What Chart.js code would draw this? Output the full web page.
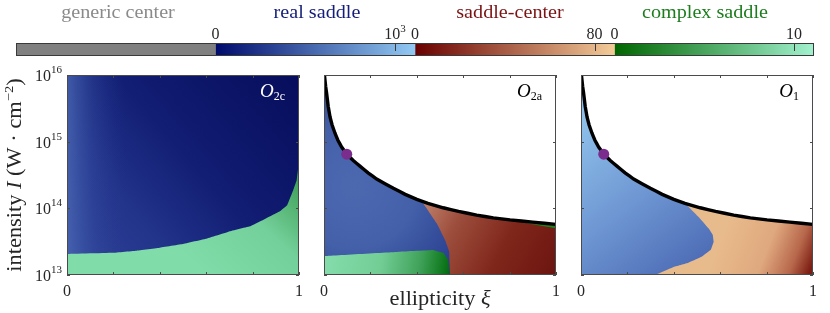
<!DOCTYPE html>
<html>
<head>
<meta charset="utf-8">
<title>phase diagram</title>
<script src="https://cdn.jsdelivr.net/npm/chart.js@4.4.1/dist/chart.umd.min.js"></script>
<style>
  body { margin: 0; background: #fff; }
  #fig { position: relative; width: 830px; height: 313px; }
  #fig canvas { position: absolute; left: 0; top: 0; }
</style>
</head>
<body>
<div id="fig">
  <canvas id="cbar" width="830" height="313"></canvas>
  <canvas id="o2c" width="830" height="313"></canvas>
  <canvas id="o2a" width="830" height="313"></canvas>
  <canvas id="o1" width="830" height="313"></canvas>
</div>
<script>
// Values (xi = ellipticity, I = intensity in W/cm^2)

// colour bar
const cbNames = ['generic center', 'real saddle', 'saddle-center', 'complex saddle'];
const cbSpan = [1, 1, 1, 1];
const cbMaxBase = ['', '10', '80', '10'];
const cbMaxExp = ['', '3', '', ''];

// axis ticks
const xTicks = [0, 0.2, 0.4, 0.6, 0.8, 1];
const xTickLabels = ['0', '', '', '', '', '1'];
const yTicks = [1e13, 1e14, 1e15, 1e16];

// upper edge of the bound region (black curve), the same in O_2a and O_1
const edgeXi = [0.002, 0.004, 0.007, 0.011, 0.018, 0.026, 0.035, 0.047, 0.06, 0.076, 0.098, 0.125, 0.155,
                0.19, 0.227, 0.299, 0.35, 0.40, 0.448, 0.514, 0.58, 0.658, 0.73, 0.802, 0.9, 1.0];
const edgeI = [1e16, 8.5e15, 6.8e15, 5.4e15, 3.4e15, 2.35e15, 1.78e15, 1.35e15, 1.05e15, 8.3e14, 6.5e14, 5.25e14, 4.3e14,
               3.4e14, 2.75e14, 2.0e14, 1.62e14, 1.36e14, 1.19e14, 1.02e14, 9.0e13, 7.9e13, 7.2e13, 6.7e13, 6.2e13, 5.75e13];

// marked point on the curve
const dotXi = [0.098];
const dotI = [6.5e14];

// O_2c: top of the complex-saddle zone
const o2cXi = [0, 0.2, 0.3, 0.4, 0.5, 0.6, 0.7, 0.79, 0.86, 0.92, 0.95, 0.975, 0.99, 0.997, 1.0];
const o2cI = [2.07e13, 2.16e13, 2.32e13, 2.57e13, 2.92e13, 3.5e13, 4.5e13, 5.37e13, 7.1e13, 9.1e13, 1.12e14, 1.86e14, 2.63e14, 4.17e14, 4.4e14];

// O_2a: real saddle / saddle-center border, complex-saddle pocket, thin band under the curve
const scXi = [0.421, 0.486, 0.522, 0.540, 0.543];
const scI = [1.29e14, 5.96e13, 3.35e13, 2.24e13, 1e13];
const cxXi = [0, 0.33, 0.47, 0.515, 0.535, 0.543];
const cxI = [1.93e13, 2.24e13, 2.37e13, 2.15e13, 1.7e13, 1e13];
const stripXi = [1.0, 0.9, 0.78];
const stripI = [5.0e13, 5.75e13, 6.9e13];

// O_1: real saddle / saddle-center border
const o1Xi = [0.448, 0.51, 0.55, 0.568, 0.572, 0.56, 0.52, 0.46, 0.40, 0.319];
const o1I = [1.19e14, 7.24e13, 5.01e13, 3.98e13, 3.16e13, 2.40e13, 1.88e13, 1.51e13, 1.32e13, 1e13];

// ---------------------------------------------------------------

const SERIF = '"Liberation Serif", "DejaVu Serif", serif';
const WIDE = 1.12; // Times is narrower than the Computer Modern of the original
const TOP = 1e16, BOT = 1e13;
const pts = (xs, ys) => xs.map((x, i) => ({x: x, y: ys[i]}));
const edge = pts(edgeXi, edgeI);

function rich(ctx, parts, x, y, align, stretch) {
  // parts: [text, size, italic, rise]
  const k = stretch || 1;
  const fnt = p => (p[2] ? 'italic ' : '') + p[1] + 'px ' + SERIF;
  let w = 0;
  for (const p of parts) { ctx.font = fnt(p); w += ctx.measureText(p[0]).width; }
  let cx = align === 'right' ? -w : align === 'center' ? -w / 2 : 0;
  ctx.save();
  ctx.translate(x, y);
  ctx.scale(k, 1);
  ctx.textAlign = 'left';
  ctx.textBaseline = 'alphabetic';
  for (const p of parts) {
    ctx.font = fnt(p);
    ctx.fillText(p[0], cx, -(p[3] || 0));
    cx += ctx.measureText(p[0]).width;
  }
  ctx.restore();
}

function lin(chart, x0, y0, x1, y1, stops) {
  const {ctx, chartArea, scales} = chart;
  if (!chartArea) return stops[0][1];
  const g = ctx.createLinearGradient(scales.x.getPixelForValue(x0), scales.y.getPixelForValue(y0),
                                     scales.x.getPixelForValue(x1), scales.y.getPixelForValue(y1));
  stops.forEach(s => g.addColorStop(s[0], s[1]));
  return g;
}

function rad(chart, cx, cy, r, stops) {
  const {ctx, chartArea, scales} = chart;
  if (!chartArea) return stops[0][1];
  const px = scales.x.getPixelForValue(cx), py = scales.y.getPixelForValue(cy);
  const g = ctx.createRadialGradient(px, py, 0, px, py, r);
  stops.forEach(s => g.addColorStop(s[0], s[1]));
  return g;
}

function region(data, paint) {
  return {
    type: 'line', data: data, fill: 'shape',
    backgroundColor: c => paint(c.chart),
    borderWidth: 0, pointRadius: 0, tension: 0.0001
  };
}

const curveSet = {
  type: 'line', data: edge, fill: false, borderColor: '#000', borderWidth: 3.4,
  pointRadius: 0, tension: 0.0001
};
const dotSet = {
  type: 'line', data: pts(dotXi, dotI), showLine: false, pointRadius: 5.5,
  pointBackgroundColor: '#7b2d8e', pointBorderWidth: 0
};

function panelOptions(pad) {
  return {
    responsive: false, animation: false, events: [], devicePixelRatio: 1,
    layout: {padding: pad},
    plugins: {legend: {display: false}, tooltip: {enabled: false}},
    scales: {
      x: {type: 'linear', min: 0, max: 1, display: false},
      y: {type: 'logarithmic', min: 1e13, max: 1e16, display: false}
    }
  };
}

function decor(label, sub, labelColor, extra) {
  return {
    id: 'decor',
    afterDraw(chart) {
      const {ctx, chartArea: a, scales: {x, y}} = chart;
      ctx.save();
      ctx.strokeStyle = '#4b4b4b';
      ctx.lineWidth = 1;
      ctx.beginPath();
      xTicks.forEach(v => {
        const px = Math.round(x.getPixelForValue(v)) + 0.5;
        ctx.moveTo(px, a.bottom); ctx.lineTo(px, a.bottom - 3);
        ctx.moveTo(px, a.top); ctx.lineTo(px, a.top + 3);
      });
      yTicks.forEach(v => {
        const py = Math.round(y.getPixelForValue(v)) + 0.5;
        ctx.moveTo(a.left, py); ctx.lineTo(a.left + 3, py);
        ctx.moveTo(a.right, py); ctx.lineTo(a.right - 3, py);
      });
      ctx.stroke();
      ctx.strokeRect(a.left + 0.5, a.top + 0.5, a.width - 1, a.height - 1);

      ctx.fillStyle = '#262626';
      xTicks.forEach((v, i) => {
        if (xTickLabels[i]) rich(ctx, [[xTickLabels[i], 16]], x.getPixelForValue(v), a.bottom + 21, 'center');
      });

      ctx.fillStyle = labelColor;
      rich(ctx, [[label, 19, true], [sub, 12, false, -3]], a.right - 14, a.top + 22, 'right');

      ctx.fillStyle = '#262626';
      if (extra) extra(ctx, chart);
      ctx.restore();
    }
  };
}

// ---- colour bar ----
const cbFrom = ['#808080', '#000b6c', '#690000', '#006500'];
const cbTo = ['#808080', '#92c9f3', '#f3cb99', '#a2f2cf'];
const cbTitleColor = ['#8a8a8a', '#141e78', '#7a1414', '#1d7d1d'];
const cbTitleX = [118, 317, 510, 705];

new Chart(document.getElementById('cbar'), {
  type: 'bar',
  data: {
    labels: ['bar'],
    datasets: cbNames.map((n, i) => ({
      label: n,
      data: [cbSpan[i]],
      backgroundColor: c => {
        const {ctx, chartArea, scales} = c.chart;
        if (!chartArea) return cbFrom[i];
        const g = ctx.createLinearGradient(scales.x.getPixelForValue(i), 0, scales.x.getPixelForValue(i + 1), 0);
        g.addColorStop(0, cbFrom[i]);
        g.addColorStop(1, cbTo[i]);
        return g;
      },
      borderWidth: 0, barPercentage: 1, categoryPercentage: 1
    }))
  },
  options: {
    indexAxis: 'y',
    responsive: false, animation: false, events: [], devicePixelRatio: 1,
    layout: {padding: {left: 16, right: 16, top: 43, bottom: 257}},
    plugins: {legend: {display: false}, tooltip: {enabled: false}},
    scales: {
      x: {stacked: true, min: 0, max: 4, display: false},
      y: {stacked: true, display: false}
    }
  },
  plugins: [{
    id: 'cbdecor',
    afterDraw(chart) {
      const {ctx, chartArea: a, scales: {x}} = chart;
      ctx.save();
      ctx.strokeStyle = '#3a3a3a';
      ctx.lineWidth = 1;
      ctx.beginPath();
      for (let i = 1; i < cbNames.length; i++) {
        const px = Math.round(x.getPixelForValue(i + 0.9)) + 0.5;
        ctx.moveTo(px, a.top); ctx.lineTo(px, a.top + 8);
      }
      ctx.stroke();
      ctx.strokeRect(a.left + 0.5, a.top + 0.5, a.width - 1, a.height - 1);

      ctx.fillStyle = '#262626';
      for (let i = 1; i < cbNames.length; i++) {
        rich(ctx, [['0', 16]], x.getPixelForValue(i), 39, 'center');
        const parts = [[cbMaxBase[i], 16]];
        if (cbMaxExp[i]) parts.push([cbMaxExp[i], 11, false, 7]);
        rich(ctx, parts, x.getPixelForValue(i + 0.9), 39, 'center');
      }
      cbNames.forEach((n, i) => {
        ctx.fillStyle = cbTitleColor[i];
        rich(ctx, [[n, 18]], cbTitleX[i], 18, 'center', WIDE);
      });
      ctx.restore();
    }
  }]
});

// ---- O_2c ----
const frame = [{x: 0, y: BOT}, {x: 0, y: TOP}, {x: 1, y: TOP}, {x: 1, y: BOT}];
new Chart(document.getElementById('o2c'), {
  type: 'line',
  data: {
    datasets: [
      region([...pts(o2cXi, o2cI), {x: 1, y: BOT}, {x: 0, y: BOT}],
        ch => lin(ch, 0.6, 1e13, 1, 3e14, [[0, '#80dca8'], [0.55, '#74d09a'], [1, '#3e9e55']])),
      region(frame,
        ch => lin(ch, 0, 1e13, 0.25, 1e13, [[0, 'rgba(78,108,182,0.75)'], [0.45, 'rgba(60,88,168,0.3)'], [1, 'rgba(40,60,150,0)']])),
      region(frame,
        ch => lin(ch, 0, 1e13, 1, 1e16, [[0, '#30459a'], [0.3, '#22338a'], [0.55, '#121e74'], [0.8, '#0b1466'], [1, '#070d5c']]))
    ]
  },
  options: panelOptions({left: 67, right: 531, top: 75, bottom: 38}),
  plugins: [decor('O', '2c', '#ffffff', (ctx, chart) => {
    const y = chart.scales.y;
    yTicks.forEach(v => {
      const py = y.getPixelForValue(v);
      rich(ctx, [['10', 16], [String(Math.round(Math.log10(v))), 11, false, 8]], 62, py + 6, 'right');
    });
    ctx.save();
    ctx.translate(21, 175);
    ctx.rotate(-Math.PI / 2);
    rich(ctx, [['intensity ', 20], ['I', 20, true], [' (W · cm', 20], ['−2', 13, false, 8], [')', 20]], 0, 0, 'center', WIDE);
    ctx.restore();
  })]
});

// ---- O_2a ----
new Chart(document.getElementById('o2a'), {
  type: 'line',
  data: {
    datasets: [
      dotSet,
      curveSet,
      region([...edge.filter(p => p.x >= 0.78), ...pts(stripXi, stripI)], () => '#17891c'),
      region([...pts(cxXi, cxI), {x: 0, y: BOT}],
        ch => lin(ch, 0, 2e13, 0.545, 1e13, [[0, '#84ddab'], [0.45, '#72cd95'], [0.75, '#40a25a'], [0.92, '#147d22'], [1, '#006410']])),
      region([{x: 0, y: TOP}, ...edge.filter(p => p.x < scXi[0]), ...pts(scXi, scI), {x: 0, y: BOT}],
        ch => rad(ch, 0.13, 2.2e14, 140, [[0, '#4c69b0'], [0.45, '#4460a9'], [0.8, '#2e4594'], [1, '#1f3084']])),
      region([{x: 0, y: TOP}, ...edge, {x: 1, y: BOT}, {x: 0, y: BOT}],
        ch => lin(ch, 0.43, 1.2e14, 1, 1e13, [[0, '#c0806a'], [0.25, '#9d4e3d'], [0.6, '#80271b'], [1, '#6c1410']]))
    ]
  },
  options: panelOptions({left: 324, right: 274, top: 75, bottom: 38}),
  plugins: [decor('O', '2a', '#000000', (ctx) => {
    rich(ctx, [['ellipticity ', 20], ['ξ', 20, true]], 440, 305, 'center', WIDE);
  })]
});

// ---- O_1 ----
new Chart(document.getElementById('o1'), {
  type: 'line',
  data: {
    datasets: [
      dotSet,
      curveSet,
      region([{x: 0, y: TOP}, ...edge.filter(p => p.x < o1Xi[0]), ...pts(o1Xi, o1I), {x: 0, y: BOT}],
        ch => lin(ch, 0, 2e15, 0.5, 1e13, [[0, '#8ec0ea'], [0.5, '#6e96d2'], [1, '#4a68b3']])),
      region([{x: 0, y: TOP}, ...edge, {x: 1, y: BOT}, {x: 0, y: BOT}],
        ch => lin(ch, 0.62, 5e13, 1, 1.5e13, [[0, '#e8bb8c'], [0.5, '#dfa87e'], [0.8, '#b8684c'], [1, '#7c1d13']]))
    ]
  },
  options: panelOptions({left: 581, right: 17, top: 75, bottom: 38}),
  plugins: [decor('O', '1', '#000000')]
});
</script>
</body>
</html>
